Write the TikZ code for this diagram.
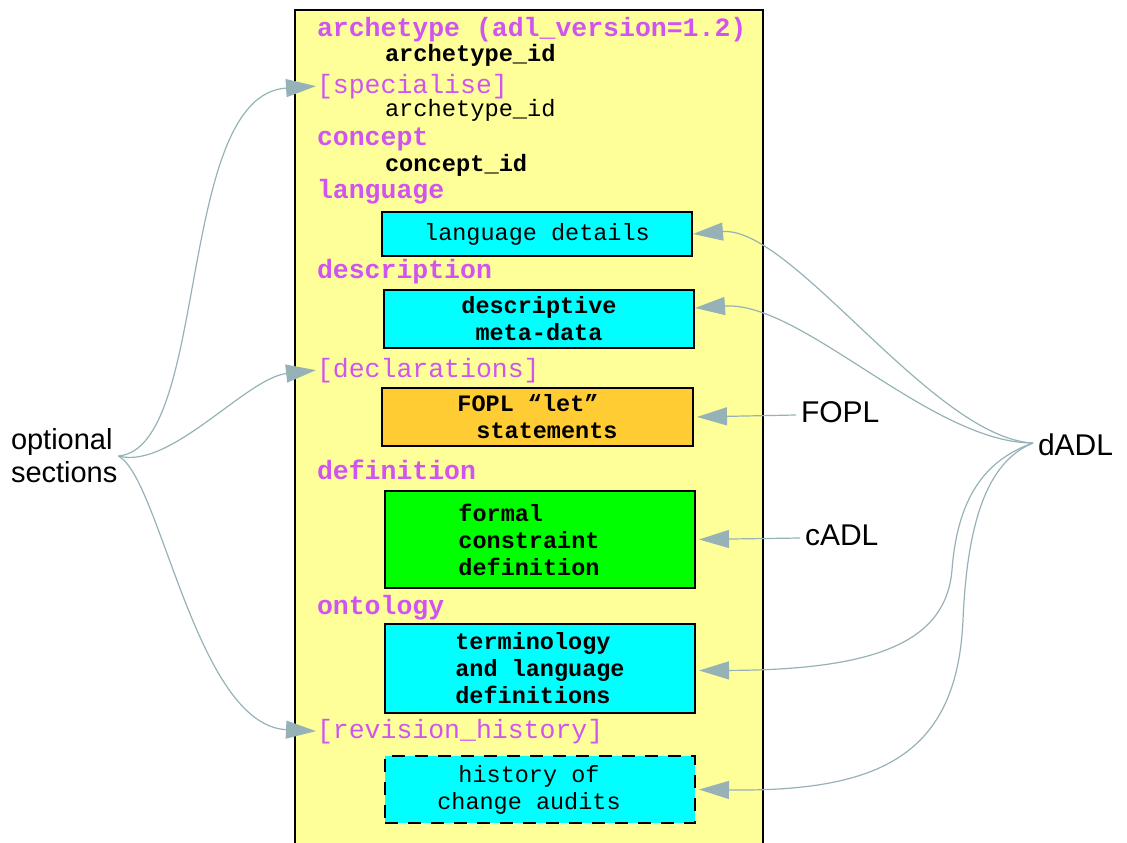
\documentclass[tikz,border=0pt]{standalone}
\usepackage{fontspec}
\setmainfont{Liberation Sans}
\setmonofont{Liberation Mono}
\usepackage{tikz}
\usetikzlibrary{arrows.meta}

\definecolor{adlyellow}{RGB}{255,255,153}
\definecolor{adlpink}{RGB}{208,84,240}
\definecolor{adlcyan}{RGB}{0,255,255}
\definecolor{adlorange}{RGB}{255,204,51}
\definecolor{adlgreen}{RGB}{0,255,0}
\definecolor{linkgray}{RGB}{150,178,183}

\begin{document}
\begin{tikzpicture}[x=1pt, y=-1pt, line width=2pt,
    keyword/.style={anchor=base west, inner sep=0pt, text=adlpink,
      font=\ttfamily\bfseries\fontsize{26.5}{30}\selectfont},
    optsec/.style={keyword, font=\ttfamily\fontsize{26.5}{30}\selectfont},
    ident/.style={anchor=base west, inner sep=0pt,
      font=\ttfamily\bfseries\fontsize{23.7}{27}\selectfont},
    part/.style={draw, anchor=north west, minimum width=310pt, inner sep=0pt,
      align=center, font=\ttfamily\fontsize{23.5}{27}\selectfont},
    boldpart/.style={part, font=\ttfamily\bfseries\fontsize{23.5}{27}\selectfont},
    callout/.style={anchor=west, inner xsep=4pt, inner ysep=0pt,
      text height=22pt, text depth=8pt, font=\fontsize{30}{33}\selectfont},
    link/.style={draw=linkgray, line width=1.2pt,
      -{Triangle[length=30pt, width=18pt]}}]
    \useasboundingbox (0,0) rectangle (1127,843);

    % draw archetype frame, open at the bottom
    \fill[adlyellow] (295,10) rectangle (763,843);
    \draw (295,843) -- (295,10) -- (763,10) -- (763,843);

    % draw section keywords
    \node[keyword] (archhead) at (316,37) {archetype (adl\_version=1.2)};
    \node[ident] (archid) at (384,62) {archetype\_id};
    \node[optsec] (spec) at (316,93) {[specialise]};
    \node[ident, font=\ttfamily\fontsize{23.7}{27}\selectfont] (specid) at (384,116) {archetype\_id};
    \node[keyword] (concept) at (316,145) {concept};
    \node[ident] (conceptid) at (384,171) {concept\_id};
    \node[keyword] (lang) at (316,198) {language};
    \node[keyword] (descr) at (316,278) {description};
    \node[optsec] (decl) at (316,377) {[declarations]};
    \node[keyword] (defn) at (316,479) {definition};
    \node[keyword] (onto) at (316,614) {ontology};
    \node[optsec] (revhist) at (316,738) {[revision\_history]};

    % draw section bodies
    \node[part, fill=adlcyan, minimum height=44pt] (langbox) at (381,211) {language details};
    \node[boldpart, fill=adlcyan, minimum height=58pt] (descrbox) at (383,289) {descriptive\\meta-data};
    \node[boldpart, fill=adlorange, minimum height=58pt, minimum width=311pt, align=left] (foplbox) at (381,387)
      {FOPL “let”\\\hspace*{19pt}statements};
    \node[boldpart, fill=adlgreen, minimum height=97pt, align=left] (defnbox) at (384,490)
      {formal\\constraint\\definition\hspace*{22pt}};
    \node[boldpart, fill=adlcyan, minimum height=89pt, align=left] (ontobox) at (384,623)
      {terminology\\and language\\definitions};
    \node[part, fill=adlcyan, dash pattern=on 13pt off 10pt, minimum height=67pt] (histbox) at (384,755)
      {history of\hspace*{22pt}\\change audits\hspace*{22pt}};

    % draw side labels
    \node[anchor=west, inner sep=0pt, align=left, font=\fontsize{29}{33}\selectfont] (opt) at (10,456)
      {optional\\sections};
    \node[callout] (fopl) at (796,415) {FOPL};
    \node[callout] (cadl) at (800,538) {cADL};
    \node[callout] (dadl) at (1033,448) {dADL};

    % draw optional section arrows
    \draw[link] (opt.east) .. controls +(92,-8) and +(-141,9) .. (spec.west);
    \draw[link] (opt.east) .. controls +(52,14) and +(-70,8) .. (decl.west);
    \draw[link] (opt.east) .. controls +(42,22) and +(-120,-6) .. (revhist.west);

    % draw language arrows
    \draw[link, shorten >=3pt] (fopl.west) -- (foplbox.east);
    \draw[link, shorten >=3pt] (cadl.west) -- (defnbox.east);
    \draw[link] ([yshift=5pt]dadl.west) .. controls +(-100,-5) and +(99,-8) .. (langbox.east);
    \draw[link] ([yshift=5pt]dadl.west) .. controls +(-102,0) and +(107,-7) .. ([yshift=11pt]descrbox.east);
    \draw[link, shorten >=3pt] ([yshift=5pt]dadl.west) .. controls +(-42,15) and (958,490) .. (952,570)
      .. controls (946,640) and (880,670) .. ([yshift=-2pt]ontobox.east);
    \draw[link, shorten >=3pt] ([yshift=5pt]dadl.west) .. controls +(-36,15) and (968,500) .. (963,620)
      .. controls (957,755) and (880,792) .. (histbox.east);
\end{tikzpicture}
\end{document}
